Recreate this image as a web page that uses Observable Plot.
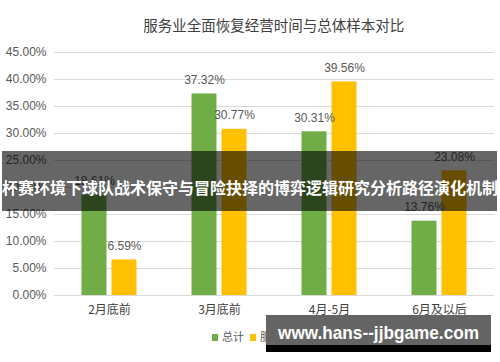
<!DOCTYPE html>
<html>
<head>
<meta charset="utf-8">
<script src="https://cdn.jsdelivr.net/npm/d3@7"></script>
<script src="https://cdn.jsdelivr.net/npm/@observablehq/plot@0.6"></script>
<style>
  html, body { margin: 0; padding: 0; background: #fff; }
  #wrap { position: relative; width: 500px; height: 362px; overflow: hidden; font-family: "Liberation Sans", "Noto Sans CJK SC", sans-serif; }
  #title { position: absolute; left: 53.5px; width: 440.5px; top: 15px; height: 20px; line-height: 20px; text-align: center; font-family: "Noto Sans CJK SC", sans-serif; font-size: 14.5px; color: #404040; white-space: nowrap; }
  #chart { position: absolute; left: 0; top: 40px; }
  #legend { position: absolute; left: 212px; top: 329px; height: 14px; line-height: 14px; font-family: "Noto Sans CJK SC", sans-serif; font-size: 11px; color: #595959; white-space: nowrap; }
  #legend span.sw { display: inline-block; width: 6px; height: 7px; margin-right: 4px; vertical-align: -0px; }
  #legend span.item { margin-right: 6px; }
  #banner { position: absolute; left: 2px; width: 495px; top: 151px; height: 60px; background: rgba(0,0,0,0.6); }
  #bannerText { position: absolute; left: 0; width: 500px; top: 177px; height: 20px; line-height: 20px; text-align: center; font-family: "Noto Sans CJK SC", sans-serif; font-weight: bold; font-size: 16px; color: #fff; white-space: nowrap; }
  #wm { position: absolute; left: 266px; width: 225px; top: 315px; height: 30px; background: rgb(100,100,100); }
  #wmBar { position: absolute; left: 266px; width: 225px; top: 345px; height: 7px; background: #000; }
  #wmText { position: absolute; left: 266px; width: 225px; top: 320px; height: 24px; }
</style>
</head>
<body>
<div id="wrap">
  <div id="title"></div>
  <div id="chart"></div>
  <div id="legend"></div>
  <div id="banner"></div>
  <div id="bannerText"></div>
  <div id="wm"></div>
  <div id="wmBar"></div>
  <svg id="wmText" width="225" height="24"></svg>
</div>
<script>
const titleText = "服务业全面恢复经营时间与总体样本对比";
const categories = ["2月底前", "3月底前", "4月-5月", "6月及以后"];
const seriesNames = ["总计", "服务业"];
const totalValues = [18.61, 37.32, 30.31, 13.76];
const serviceValues = [6.59, 30.77, 39.56, 23.08];
const yTicks = [0, 5, 10, 15, 20, 25, 30, 35, 40, 45];
const seriesColors = ["#70AD47", "#FFC000"];
const bannerString = "杯赛环境下球队战术保守与冒险抉择的博弈逻辑研究分析路径演化机制";
const watermarkString = "www.hans--jjbgame.com";

const data = categories.flatMap((c, i) => [
  {cat: c, s: seriesNames[0], v: totalValues[i]},
  {cat: c, s: seriesNames[1], v: serviceValues[i]}
]);
const pct = d => d.toFixed(2) + "%";

document.getElementById("title").textContent = titleText;

const chart = Plot.plot({
  width: 500,
  height: 280,
  marginTop: 12,
  marginBottom: 25,
  marginLeft: 53.5,
  marginRight: 6,
  style: {fontFamily: '"Liberation Sans", "Noto Sans CJK SC", sans-serif', fontSize: "12px", color: "#595959", background: "transparent"},
  fx: {domain: categories, padding: 0, label: null},
  x: {domain: seriesNames, paddingInner: 0.18, paddingOuter: 0.865, axis: null},
  y: {domain: [0, 45], label: null, axis: null},
  color: {domain: seriesNames, range: seriesColors},
  marks: [
    Plot.ruleY(yTicks, {stroke: "#d9d9d9", strokeWidth: 1}),
    Plot.barY(data, {fx: "cat", x: "s", y: "v", fill: "s"}),
    Plot.text(data, {fx: "cat", x: "s", y: "v", text: d => pct(d.v), dy: -14, fill: "#595959", fontSize: 12}),
    Plot.axisY({ticks: yTicks, tickFormat: pct, tickSize: 0, tickPadding: 8, label: null, fill: "#595959", fontSize: 12}),
    Plot.axisFx({anchor: "bottom", tickSize: 0, tickPadding: 10, label: null, fill: "#404040", fontSize: 12, fontFamily: '"Noto Sans CJK SC", sans-serif'})
  ]
});
document.getElementById("chart").appendChild(chart);

const legend = document.getElementById("legend");
seriesNames.forEach((name, i) => {
  const item = document.createElement("span");
  item.className = "item";
  const sw = document.createElement("span");
  sw.className = "sw";
  sw.style.background = seriesColors[i];
  item.appendChild(sw);
  item.appendChild(document.createTextNode(name));
  legend.appendChild(item);
});

document.getElementById("bannerText").textContent = bannerString;

const wm = d3.select("#wmText");
wm.append("text")
  .attr("x", 12).attr("y", 19)
  .attr("textLength", 201).attr("lengthAdjust", "spacingAndGlyphs")
  .attr("fill", "#fff")
  .attr("font-family", '"Liberation Sans", sans-serif')
  .attr("font-weight", "bold")
  .attr("font-size", 19)
  .text(watermarkString);
</script>
</body>
</html>
